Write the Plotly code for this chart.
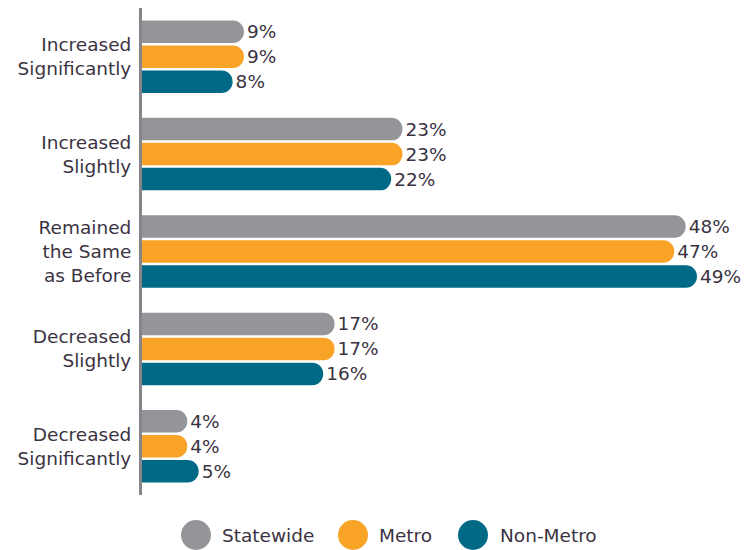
import plotly.graph_objects as go

categories = ["Increased<br>Significantly", "Increased<br>Slightly",
              "Remained<br>the Same<br>as Before", "Decreased<br>Slightly",
              "Decreased<br>Significantly"]
series_names = ["Statewide", "Metro", "Non-Metro"]
statewide = [9, 23, 48, 17, 4]
metro = [9, 23, 47, 17, 4]
non_metro = [8, 22, 49, 16, 5]
colors = ["#939598", "#F9A327", "#006A86"]

FONT = "DejaVu Sans, sans-serif"
TXT = "#3b3342"
FS = 18.5

L, R, T, B = 142, 4, 8, 55
PW, PH = 744 - L - R, 550 - T - B

fig = go.Figure()
for name, vals, col in zip(series_names, [statewide, metro, non_metro], colors):
    fig.add_trace(go.Bar(
        y=categories, x=vals, name=name, orientation="h",
        marker=dict(color=col, line=dict(width=0)),
        texttemplate="%{x}%", textposition="outside",
        textfont=dict(size=FS, color=TXT, family=FONT),
        constraintext="none", cliponaxis=False, showlegend=False,
    ))

fig.update_layout(
    width=744, height=550,
    margin=dict(l=L, r=R, t=T, b=B, autoexpand=False),
    paper_bgcolor="white", plot_bgcolor="white",
    barmode="group", bargap=0.23, bargroupgap=0.1,
    barcornerradius="50%",
    font=dict(family=FONT, size=FS, color=TXT),
    xaxis=dict(range=[0, 52.8], visible=False, fixedrange=True, automargin=False),
    yaxis=dict(autorange="reversed", showline=True, linewidth=3,
               linecolor="#86868a", ticks="", showgrid=False, automargin=False,
               ticklabelstandoff=4, fixedrange=True,
               tickfont=dict(size=FS, color=TXT, family=FONT)),
)

# Legend drawn with circle shapes and text annotations
legend_x = [196, 353, 473]
text_x = [220, 377, 498]
ly = -(535 - (550 - B)) / PH
for name, col, cx, tx in zip(series_names, colors, legend_x, text_x):
    fig.add_shape(type="circle", xref="paper", yref="paper",
                  xsizemode="pixel", ysizemode="pixel",
                  xanchor=(cx - L) / PW, yanchor=ly,
                  x0=-15, x1=15, y0=-15, y1=15,
                  fillcolor=col, line=dict(width=0))
    fig.add_annotation(text=name, xref="paper", yref="paper",
                       x=(tx - L) / PW, y=ly,
                       xanchor="left", yanchor="middle", showarrow=False,
                       font=dict(size=FS, color=TXT, family=FONT))

fig.write_html("out.html", config={"displayModeBar": False},
               post_script="document.body.style.margin='0';")
